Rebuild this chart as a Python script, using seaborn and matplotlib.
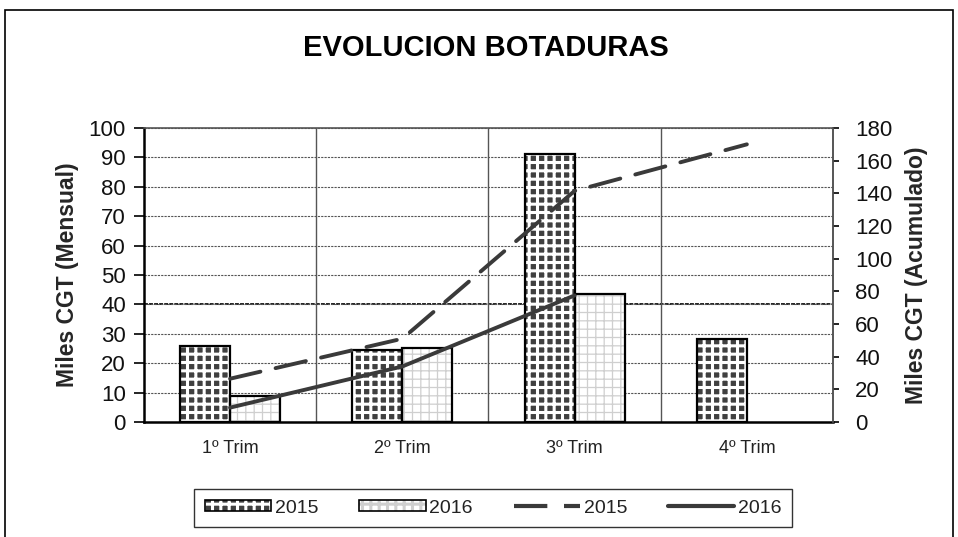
import numpy as np
import pandas as pd
import matplotlib
matplotlib.use("Agg")
import matplotlib.pyplot as plt
from matplotlib.patches import Rectangle, Patch
from matplotlib.lines import Line2D
import seaborn as sns

# data (Miles CGT)
quarters = ["1º Trim", "2º Trim", "3º Trim", "4º Trim"]
mensual_2015 = [26.0, 24.5, 91.0, 28.2]
mensual_2016 = [8.8, 25.2, 43.5, np.nan]
acum_2015 = [26.5, 51.0, 141.5, 170.0]
acum_2016 = [8.8, 34.0, 77.5]
years = ["2015", "2016"]

sns.set_style("white")
plt.rcParams["font.family"] = ["Liberation Sans", "DejaVu Sans"]
plt.rcParams["hatch.linewidth"] = 2.2
plt.rcParams["text.color"] = "black"

df = pd.DataFrame({
    "Trim": quarters * 2,
    "Año": [years[0]] * 4 + [years[1]] * 4,
    "Miles": mensual_2015 + mensual_2016,
})

fig = plt.figure(figsize=(9.58, 5.37), dpi=100)
ax = fig.add_axes([0.1503, 0.2142, 0.7192, 0.5474])

sns.barplot(data=df, x="Trim", y="Miles", hue="Año", order=quarters,
            hue_order=years, width=0.58, gap=0, dodge=True,
            palette=["#404040", "white"], ax=ax, legend=False)

# hatch patterns: checker-like for 2015, brick-like for 2016
styles = [("#404040", "white", "++"), ("white", "#cfcfcf", "++")]
for cont, (fc, hc, hatch) in zip(ax.containers, styles):
    for bar in cont:
        if np.isnan(bar.get_height()) or bar.get_height() == 0:
            continue
        bar.set_facecolor(fc)
        bar.set_edgecolor(hc)
        bar.set_hatch(hatch)
        bar.set_linewidth(0)
        if hc == "#cfcfcf":
            try:
                bar.set_hatch_linewidth(0.9)
            except AttributeError:
                pass
        ax.add_patch(Rectangle(bar.get_xy(), bar.get_width(), bar.get_height(),
                               fill=False, edgecolor="black", linewidth=1.6, zorder=3))

ax.set_ylim(0, 100)
ax.set_yticks(np.arange(0, 101, 10))
ax.set_xlim(-0.5, 3.5)
ax.set_xticks(np.arange(len(quarters)))
ax.set_xticklabels(quarters, fontsize=13)
ax.set_xticks([0.5, 1.5, 2.5], minor=True)
ax.tick_params(axis="x", which="major", length=0, pad=13, labelcolor="#222222")
ax.tick_params(axis="x", which="minor", length=5, color="#555555", width=1)
ax.tick_params(axis="y", which="major", length=7, width=1.2, color="black",
               labelsize=16, direction="out", left=True, pad=6, labelcolor="#111111")
ax.grid(axis="y", which="major", linestyle=(0, (2, 1)), color="#555555", linewidth=0.8)
ax.grid(axis="x", which="minor", linestyle="-", color="#555555", linewidth=1)
ax.axhline(40, color="#222222", linewidth=1.4, linestyle=(0, (2, 0.6)), zorder=0.5)
ax.set_axisbelow(True)
ax.set_xlabel("")
ax.set_ylabel("Miles CGT (Mensual)", fontsize=16.5, fontweight="bold", labelpad=7)
for side in ["left", "bottom"]:
    ax.spines[side].set_color("black")
    ax.spines[side].set_linewidth(1.8)
for side in ["top", "right"]:
    ax.spines[side].set_color("#555555")
    ax.spines[side].set_linewidth(1.2)

# cumulative lines on the right axis
ax2 = ax.twinx()
sns.lineplot(x=np.arange(len(acum_2015)), y=acum_2015, ax=ax2, color="#3a3a3a",
             linewidth=2.8, sort=False)
ax2.lines[-1].set_dashes([8, 4])
ax2.lines[-1].set_dash_capstyle("round")
sns.lineplot(x=np.arange(len(acum_2016)), y=acum_2016, ax=ax2, color="#3a3a3a",
             linewidth=2.8, sort=False)
ax2.set_ylim(0, 180)
ax2.set_yticks(np.arange(0, 181, 20))
ax2.tick_params(axis="y", length=4, width=1.2, color="black", labelsize=16,
                direction="out", right=True, pad=12, labelcolor="#111111")
ax2.set_ylabel("Miles CGT (Acumulado)", fontsize=16.5, fontweight="bold", labelpad=9)
ax2.grid(False)
for side in ["left", "bottom", "top"]:
    ax2.spines[side].set_visible(False)
ax2.spines["right"].set_color("#555555")
ax2.spines["right"].set_linewidth(1.2)

fig.text(0.507, 0.91, "EVOLUCION BOTADURAS", ha="center", va="center",
         fontsize=21, fontweight="bold")

# outer chart border
fig.add_artist(Rectangle((5 / 958, -0.05), 948 / 958, 1 - 10 / 537 + 0.05,
                         transform=fig.transFigure, fill=False,
                         edgecolor="black", linewidth=1.2))

outline = Patch(facecolor="none", edgecolor="black", linewidth=1.2)
handles = [
    (Patch(facecolor="#404040", edgecolor="white", hatch="++", linewidth=0), outline),
    (Patch(facecolor="white", edgecolor="#cfcfcf", hatch="++", linewidth=0), outline),
    Line2D([], [], color="#3a3a3a", linewidth=3, dashes=[8, 4]),
    Line2D([], [], color="#3a3a3a", linewidth=3),
]
leg = fig.legend(handles, years + years, loc="center", ncol=4,
                 bbox_to_anchor=(0.515, 0.054), frameon=True, fontsize=14,
                 handlelength=3.4, handleheight=0.5, columnspacing=2.1,
                 handletextpad=0.2, borderpad=0.55, fancybox=False)
leg.get_frame().set_edgecolor("black")
leg.get_frame().set_linewidth(1)
for t in leg.get_texts():
    t.set_color("#222222")

fig.savefig("out.png", dpi=100)
